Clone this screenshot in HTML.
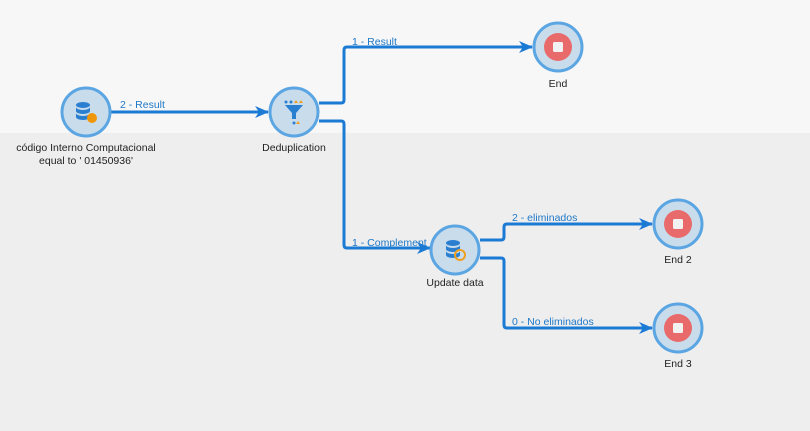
<!DOCTYPE html>
<html><head><meta charset="utf-8"><style>
html,body{margin:0;padding:0;}
body{width:810px;height:431px;overflow:hidden;background:#eeeeee;}
svg{display:block}
text{font-family:"Liberation Sans",Arial,sans-serif;font-size:10.5px;}
.lbl{fill:#1f78c8;}
.nl{fill:#222;text-anchor:middle;}
</style></head><body>
<svg width="810" height="431" viewBox="0 0 810 431">
<defs>
<marker id="ar" markerWidth="14" markerHeight="12" refX="13" refY="6" orient="auto" markerUnits="userSpaceOnUse">
<path d="M0,0 L14,6 L0,12 L4,6 Z" fill="#1a7ad4"/>
</marker>
<g id="db">
<ellipse cx="0" cy="-6" rx="7" ry="3" fill="#2a7fd0"/>
<path d="M-7,-4 v4 a7,3 0 0 0 14,0 v-4 a7,3 0 0 1 -14,0Z" fill="#2a7fd0"/>
<path d="M-7,2 v4 a7,3 0 0 0 14,0 v-4 a7,3 0 0 1 -14,0Z" fill="#2a7fd0"/>
</g>
</defs>
<rect x="0" y="0" width="810" height="133" fill="#f7f7f7"/>
<g fill="none" stroke="#1a7ad4" stroke-width="3">
<path d="M111,112 H268" marker-end="url(#ar)"/>
<path d="M319,103 H341 Q344,103 344,100 V50 Q344,47 347,47 H532" marker-end="url(#ar)"/>
<path d="M319,121 H341 Q344,121 344,124 V245 Q344,248 347,248 H430" marker-end="url(#ar)"/>
<path d="M480,240 H501 Q504,240 504,237 V227 Q504,224 507,224 H652" marker-end="url(#ar)"/>
<path d="M480,258 H501 Q504,258 504,261 V325 Q504,328 507,328 H652" marker-end="url(#ar)"/>
</g>
<text class="lbl" x="120" y="108">2 - Result</text>
<text class="lbl" x="352" y="45">1 - Result</text>
<text class="lbl" x="352" y="246">1 - Complement</text>
<text class="lbl" x="512" y="221">2 - eliminados</text>
<text class="lbl" x="512" y="325">0 - No eliminados</text>
<g fill="#c9dcec" stroke="#5aa5e2" stroke-width="3">
<circle cx="86" cy="112" r="24"/>
<circle cx="294" cy="112" r="24"/>
<circle cx="558" cy="47" r="24"/>
<circle cx="455" cy="250" r="24"/>
<circle cx="678" cy="224" r="24"/>
<circle cx="678" cy="328" r="24"/>
</g>
<use href="#db" x="83" y="111"/>
<circle cx="92" cy="118" r="5" fill="#f0960a"/>
<use href="#db" x="453" y="249"/>
<circle cx="460" cy="255" r="5" fill="none" stroke="#f0a020" stroke-width="2"/>
<g fill="#2a7fd0">
<path d="M285,105 H303 L296,113 V119 H292 V113 Z"/>
<circle cx="286" cy="102" r="1.5"/><circle cx="291" cy="102" r="1.5"/>
<circle cx="294" cy="123" r="1.5"/>
</g>
<g fill="#f0a020">
<path d="M296,100 l2,3 h-4z"/><path d="M301,100 l2,3 h-4z"/><path d="M298,121 l2,3 h-4z"/>
</g>
<g fill="#e86a6a">
<circle cx="558" cy="47" r="14"/><circle cx="678" cy="224" r="14"/><circle cx="678" cy="328" r="14"/>
</g>
<g fill="#f2f2f2">
<rect x="553" y="42" width="10" height="10" rx="1.5"/>
<rect x="673" y="219" width="10" height="10" rx="1.5"/>
<rect x="673" y="323" width="10" height="10" rx="1.5"/>
</g>
<text class="nl" x="86" y="151">código Interno Computacional</text>
<text class="nl" x="86" y="164">equal to ' 01450936'</text>
<text class="nl" x="294" y="151">Deduplication</text>
<text class="nl" x="558" y="87">End</text>
<text class="nl" x="455" y="286">Update data</text>
<text class="nl" x="678" y="263">End 2</text>
<text class="nl" x="678" y="367">End 3</text>
</svg>
</body></html>
